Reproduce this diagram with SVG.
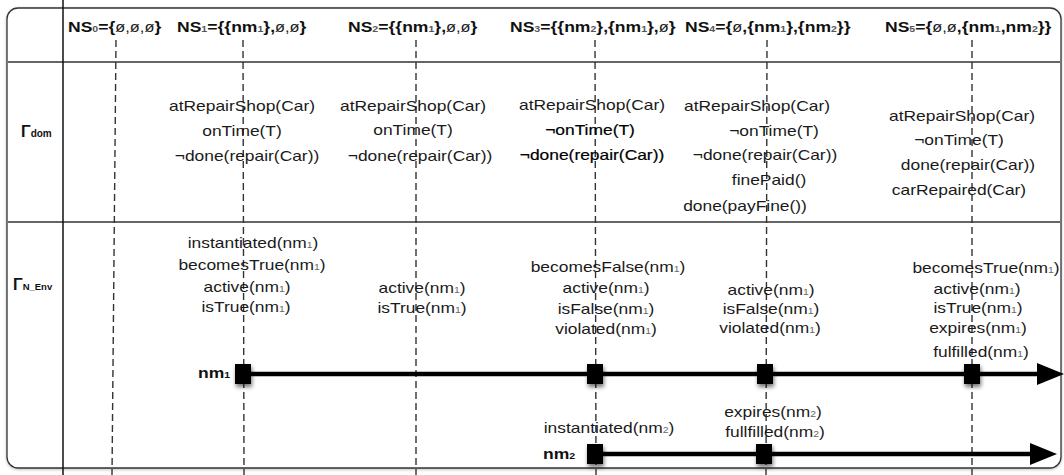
<svg xmlns="http://www.w3.org/2000/svg" width="1064" height="475" viewBox="0 0 1064 475">
<defs>
<style>
.t{font-family:"Liberation Sans",Arial,sans-serif;font-size:15px;fill:#1a1a1a;text-anchor:middle}
.h{font-family:"Liberation Sans",Arial,sans-serif;font-size:15px;font-weight:bold;fill:#111}
.e{font-family:"Liberation Sans",Arial,sans-serif;font-size:14px;font-weight:normal;fill:#222}
.s{font-size:9px;fill:#666}
.hs{font-size:9px;fill:#555}
.em{stroke:#000;stroke-width:0.2;fill:#000}
.lab{font-family:"Liberation Sans",Arial,sans-serif;font-weight:bold;fill:#111}
.dash{stroke:#333;stroke-width:1.4;stroke-dasharray:7 4;fill:none}
.rule{stroke:#333;stroke-width:1.5;fill:none}
.tl{stroke:#000;stroke-width:4.5;fill:none}
.sq{fill:#000}
</style>
<filter id="sh" x="-60%" y="-60%" width="220%" height="260%">
<feDropShadow dx="1" dy="3" stdDeviation="2.2" flood-color="#000" flood-opacity="0.55"/>
</filter>
<filter id="bsh" x="-5%" y="-5%" width="110%" height="110%">
<feDropShadow dx="0" dy="1" stdDeviation="1.5" flood-color="#000" flood-opacity="0.25"/>
</filter>
<marker id="arr" markerUnits="userSpaceOnUse" markerWidth="27" markerHeight="22" refX="0" refY="11" orient="auto">
<path d="M0,0 L27,11 L0,22 Z" fill="#000"/>
</marker>
</defs>
<rect width="1064" height="475" fill="#fff"/>
<g id="frame">
<rect x="7" y="8" width="1054" height="460" rx="11" fill="#fff" stroke="#333" stroke-width="1.3" filter="url(#bsh)"/>
<line class="rule" x1="8" y1="62" x2="1060" y2="62"/>
<line class="rule" x1="8" y1="222" x2="1060" y2="222"/>
<line x1="63" y1="0" x2="63" y2="475" stroke="#111" stroke-width="1.5"/>
</g>
<g id="connectors">
<line class="dash" x1="116" y1="40" x2="112" y2="475"/>
<line class="dash" x1="243" y1="40" x2="244" y2="475"/>
<line class="dash" x1="416" y1="40" x2="416" y2="475"/>
<line class="dash" x1="595" y1="40" x2="596" y2="475"/>
<line class="dash" x1="767" y1="40" x2="766" y2="475"/>
<line class="dash" x1="972" y1="40" x2="972" y2="475"/>
<line class="tl" x1="243" y1="374" x2="1037" y2="374" marker-end="url(#arr)"/>
<line class="tl" x1="595" y1="454" x2="1030" y2="454" marker-end="url(#arr)"/>
</g>
<g id="headers">
<g id="ns0"><text class="h" transform="translate(68,32) scale(1.17,1)">NS<tspan class="hs">0</tspan>={<tspan class="e">ø,ø,ø</tspan>}</text></g>
<g id="ns1"><text class="h" transform="translate(177,32) scale(1.17,1)">NS<tspan class="hs">1</tspan>={{nm<tspan class="hs">1</tspan>},<tspan class="e">ø,ø</tspan>}</text></g>
<g id="ns2"><text class="h" transform="translate(348,32) scale(1.17,1)">NS<tspan class="hs">2</tspan>={{nm<tspan class="hs">1</tspan>},<tspan class="e">ø,ø</tspan>}</text></g>
<g id="ns3"><text class="h" transform="translate(510,32) scale(1.17,1)">NS<tspan class="hs">3</tspan>={{nm<tspan class="hs">2</tspan>},{nm<tspan class="hs">1</tspan>},<tspan class="e">ø</tspan>}</text></g>
<g id="ns4"><text class="h" transform="translate(685,32) scale(1.17,1)">NS<tspan class="hs">4</tspan>={<tspan class="e">ø</tspan>,{nm<tspan class="hs">1</tspan>},{nm<tspan class="hs">2</tspan>}}</text></g>
<g id="ns5"><text class="h" transform="translate(885,32) scale(1.17,1)">NS<tspan class="hs">5</tspan>={<tspan class="e">ø,ø</tspan>,{nm<tspan class="hs">1</tspan>,nm<tspan class="hs">2</tspan>}}</text></g>
</g>
<g id="row-labels">
<g id="gamma-dom"><text class="lab" x="21" y="137" font-size="16">Γ<tspan font-size="10">dom</tspan></text></g>
<g id="gamma-nenv"><text class="lab" x="13" y="290" font-size="16">Γ<tspan font-size="9.5">N_Env</tspan></text></g>
</g>
<g id="dom-ns1">
<text class="t" transform="translate(242,111) scale(1.16,1)">atRepairShop(Car)</text>
<text class="t" transform="translate(242,136) scale(1.16,1)">onTime(T)</text>
<text class="t" transform="translate(247,161) scale(1.16,1)">¬done(repair(Car))</text>
</g>
<g id="dom-ns2">
<text class="t" transform="translate(413,111) scale(1.16,1)">atRepairShop(Car)</text>
<text class="t" transform="translate(413,135) scale(1.16,1)">onTime(T)</text>
<text class="t" transform="translate(420,161) scale(1.16,1)">¬done(repair(Car))</text>
</g>
<g id="dom-ns3">
<text class="t" transform="translate(592,110) scale(1.16,1)">atRepairShop(Car)</text>
<text class="t em" transform="translate(590,135) scale(1.16,1)">¬onTime(T)</text>
<text class="t em" transform="translate(592,160) scale(1.16,1)">¬done(repair(Car))</text>
</g>
<g id="dom-ns4">
<text class="t" transform="translate(757,111) scale(1.16,1)">atRepairShop(Car)</text>
<text class="t" transform="translate(774,136) scale(1.16,1)">¬onTime(T)</text>
<text class="t" transform="translate(765,160) scale(1.16,1)">¬done(repair(Car))</text>
<text class="t" transform="translate(769,185) scale(1.16,1)">finePaid()</text>
<text class="t" transform="translate(745,211) scale(1.16,1)">done(payFine())</text>
</g>
<g id="dom-ns5">
<text class="t" transform="translate(962,121) scale(1.16,1)">atRepairShop(Car)</text>
<text class="t" transform="translate(959,145) scale(1.16,1)">¬onTime(T)</text>
<text class="t" transform="translate(968,170) scale(1.16,1)">done(repair(Car))</text>
<text class="t" transform="translate(959,195) scale(1.16,1)">carRepaired(Car)</text>
</g>
<g id="env-ns1">
<text class="t" transform="translate(253,248) scale(1.16,1)">instantiated(nm<tspan class="s">1</tspan>)</text>
<text class="t" transform="translate(252,270) scale(1.16,1)">becomesTrue(nm<tspan class="s">1</tspan>)</text>
<text class="t" transform="translate(247,292) scale(1.16,1)">active(nm<tspan class="s">1</tspan>)</text>
<text class="t" transform="translate(246,312) scale(1.16,1)">isTrue(nm<tspan class="s">1</tspan>)</text>
</g>
<g id="env-ns2">
<text class="t" transform="translate(422,293) scale(1.16,1)">active(nm<tspan class="s">1</tspan>)</text>
<text class="t" transform="translate(422,313) scale(1.16,1)">isTrue(nm<tspan class="s">1</tspan>)</text>
</g>
<g id="env-ns3">
<text class="t" transform="translate(608,272) scale(1.16,1)">becomesFalse(nm<tspan class="s">1</tspan>)</text>
<text class="t" transform="translate(606,293) scale(1.16,1)">active(nm<tspan class="s">1</tspan>)</text>
<text class="t" transform="translate(606,314) scale(1.16,1)">isFalse(nm<tspan class="s">1</tspan>)</text>
<text class="t" transform="translate(606,334) scale(1.16,1)">violated(nm<tspan class="s">1</tspan>)</text>
</g>
<g id="env-ns4">
<text class="t" transform="translate(771,295) scale(1.16,1)">active(nm<tspan class="s">1</tspan>)</text>
<text class="t" transform="translate(771,314) scale(1.16,1)">isFalse(nm<tspan class="s">1</tspan>)</text>
<text class="t" transform="translate(770,333) scale(1.16,1)">violated(nm<tspan class="s">1</tspan>)</text>
</g>
<g id="env-ns5">
<text class="t" transform="translate(986,273) scale(1.16,1)">becomesTrue(nm<tspan class="s">1</tspan>)</text>
<text class="t" transform="translate(977,294) scale(1.16,1)">active(nm<tspan class="s">1</tspan>)</text>
<text class="t" transform="translate(978,313) scale(1.16,1)">isTrue(nm<tspan class="s">1</tspan>)</text>
<text class="t" transform="translate(978,333) scale(1.16,1)">expires(nm<tspan class="s">1</tspan>)</text>
<text class="t" transform="translate(981,357) scale(1.16,1)">fulfilled(nm<tspan class="s">1</tspan>)</text>
</g>
<g id="nm1">
<text class="lab" font-size="15" transform="translate(198,378) scale(1.17,1)">nm<tspan font-size="9">1</tspan></text>
<rect class="sq" x="235" y="364" width="16" height="20" filter="url(#sh)"/>
<rect class="sq" x="587" y="364" width="16" height="20" filter="url(#sh)"/>
<rect class="sq" x="757" y="364" width="16" height="20" filter="url(#sh)"/>
<rect class="sq" x="964" y="364" width="16" height="20" filter="url(#sh)"/>
</g>
<g id="nm2">
<text class="lab" font-size="15" transform="translate(543,459) scale(1.17,1)">nm<tspan font-size="9">2</tspan></text>
<rect class="sq" x="587" y="444" width="16" height="20" filter="url(#sh)"/>
<rect class="sq" x="756" y="444" width="16" height="20" filter="url(#sh)"/>
<text class="t" transform="translate(609,433) scale(1.16,1)">instantiated(nm<tspan class="s">2</tspan>)</text>
<text class="t" transform="translate(773,417) scale(1.16,1)">expires(nm<tspan class="s">2</tspan>)</text>
<text class="t" transform="translate(775,437) scale(1.16,1)">fullfilled(nm<tspan class="s">2</tspan>)</text>
</g>
</svg>
